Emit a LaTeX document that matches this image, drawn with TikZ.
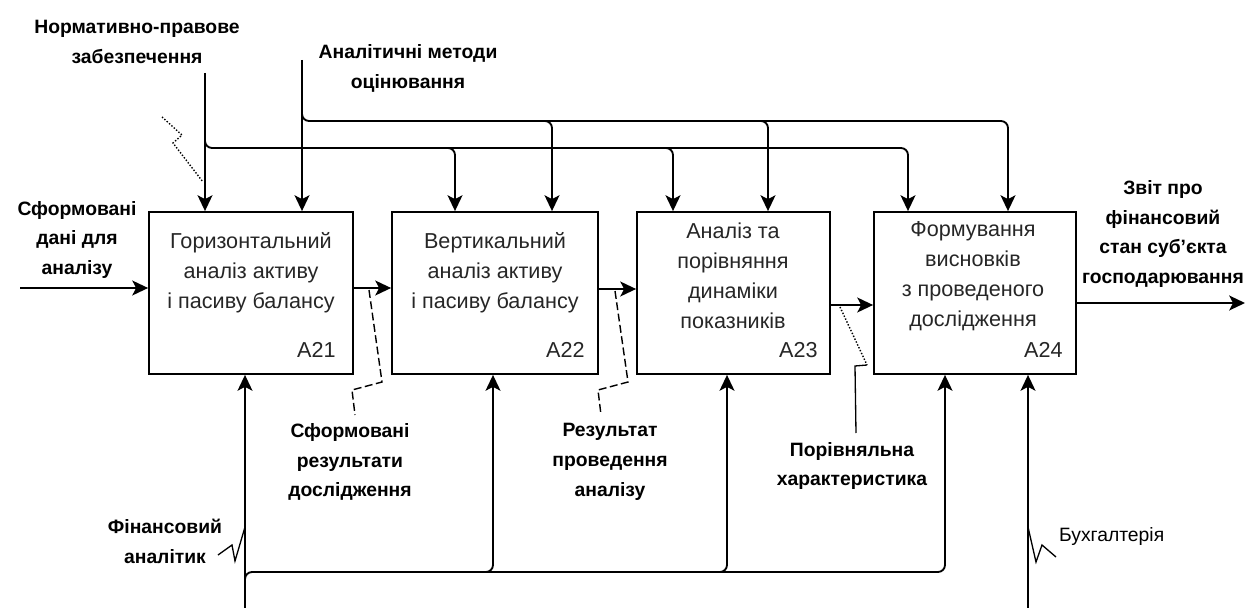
\documentclass[tikz,border=0pt]{standalone}
\usepackage{fontspec}
\setmainfont{Liberation Sans}
\usetikzlibrary{arrows.meta}

\begin{document}
\begin{tikzpicture}[x=0.02cm, y=-0.02cm,
    line/.style={line width=1.05pt},
    flow/.style={line, -{Stealth[length=9pt,width=8.5pt,inset=2.2pt]}},
    branch/.style={flow, rounded corners=4pt},
    procbox/.style={draw, line width=1.05pt, minimum width=#1, minimum height=3.24cm, inner sep=0pt},
    boxtext/.style={align=center, font=\fontsize{12.3}{17}\selectfont, text=black!85},
    boxid/.style={anchor=base east, inner sep=0pt, font=\fontsize{12.3}{17}\selectfont, text=black!85},
    tag/.style={align=center, inner sep=1pt, font=\fontsize{11}{17}\selectfont\bfseries},
    squig/.style={line width=0.75pt},
    dotsquig/.style={line width=0.8pt, densely dotted},
    dashsquig/.style={line width=0.8pt, dash pattern=on 4.5pt off 2pt},
  ]
  \useasboundingbox (0,0) rectangle (1255,608);

  % boxes
  \node[procbox=4.08cm] (a21) at (251,293) {};
  \node[procbox=4.12cm] (a22) at (495,293) {};
  \node[procbox=3.86cm] (a23) at (733.5,293) {};
  \node[procbox=4.04cm] (a24) at (975,293) {};

  \node[boxtext] (t21) at (251,273) {Горизонтальний\\аналіз активу\\і пасиву балансу};
  \node[boxtext] (t22) at (495,273) {Вертикальний\\аналіз активу\\і пасиву балансу};
  \node[boxtext] (t23) at (733,276) {Аналіз та\\порівняння\\динаміки\\показників};
  \node[boxtext] (t24) at (973,276) {Формування\\висновків\\з проведеного\\дослідження};

  \node[boxid] (n21) at ([xshift=-0.36cm,yshift=0.34cm]a21.south east) {A21};
  \node[boxid] (n22) at ([xshift=-0.28cm,yshift=0.34cm]a22.south east) {A22};
  \node[boxid] (n23) at ([xshift=-0.26cm,yshift=0.34cm]a23.south east) {A23};
  \node[boxid] (n24) at ([xshift=-0.28cm,yshift=0.34cm]a24.south east) {A24};

  % labels
  \node[tag] (norm) at (137,42) {Нормативно-правове\\забезпечення};
  \node[tag] (meth) at (408,68) {Аналітичні методи\\оцінювання};
  \node[tag] (inp) at (77,240) {Сформовані\\дані для\\аналізу};
  \node[tag] (rep) at (1163,234) {Звіт про\\фінансовий\\стан суб’єкта\\господарювання};
  \node[tag] (res1) at (350,462) {Сформовані\\результати\\дослідження};
  \node[tag] (res2) at (610,462) {Результат\\проведення\\аналізу};
  \node[tag] (cmp) at (852,466) {Порівняльна\\характеристика};
  \node[tag] (fin) at (165,541) {Фінансовий\\аналітик};
  \node[tag, anchor=west, font=\fontsize{11}{17}\selectfont] (acc) at (1057,536) {Бухгалтерія};

  % inputs and outputs
  \coordinate (i1) at (20,288);
  \coordinate (o2) at (0,289);
  \coordinate (o3) at (0,305);
  \coordinate (o4) at (1245,303);
  \draw[flow] (i1) -- (i1 -| a21.west);
  \draw[flow] (a21.east |- i1) -- (a22.west |- i1);
  \draw[flow] (a22.east |- o2) -- (a23.west |- o2);
  \draw[flow] (a23.east |- o3) -- (a24.west |- o3);
  \draw[flow] (a24.east |- o4) -- (o4);

  % controls
  \coordinate (cn) at (205,73);
  \coordinate (cm) at (302,60);
  \coordinate (nbus) at (205,148);
  \coordinate (mbus) at (302,121);
  \coordinate (u22a) at (455,148);
  \coordinate (u23a) at (673,148);
  \coordinate (u24a) at (908,148);
  \coordinate (u22b) at (552,121);
  \coordinate (u23b) at (768,121);
  \coordinate (u24b) at (1008,121);
  \draw[flow] (cn) -- (cn |- a21.north);
  \draw[flow] (cm) -- (cm |- a21.north);
  \draw[branch] ([yshift=0.24cm]nbus) |- (u24a) -- (u24a |- a24.north);
  \draw[branch] ([yshift=0.24cm]mbus) |- (u24b) -- (u24b |- a24.north);
  \foreach \u/\b in {u22a/a22, u23a/a23, u22b/a22, u23b/a23}
    \draw[branch] ([xshift=-0.18cm]\u) -| (\u |- \b.north);

  % mechanisms
  \coordinate (bfin) at (245,608);
  \coordinate (bacc) at (1028,608);
  \coordinate (dbus) at (245,572);
  \coordinate (d22) at (493,572);
  \coordinate (d23) at (727,572);
  \coordinate (d24) at (945,572);
  \draw[flow] (bfin) -- (bfin |- a21.south);
  \draw[flow] (bacc) -- (bacc |- a24.south);
  \draw[branch] ([yshift=-0.2cm]dbus) |- (d24) -- (d24 |- a24.south);
  \foreach \d/\b in {d22/a22, d23/a23}
    \draw[branch] ([xshift=-0.18cm]\d) -| (\d |- \b.south);

  % squiggles
  \draw[dotsquig] (162,117) -- (182,135) -- (173,143) -- (203,182);
  \draw[dashsquig] (369,290) -- (382,382) -- (352,390) -- (355,415);
  \draw[dashsquig] (615,291) -- (628,382) -- (598,390) -- (601,415);
  \draw[dotsquig] (840,307) -- (867,365);
  \draw[squig] (867,365) -- (855,366) -- (856,433);
  \draw[squig] (218,555) -- (232,545) -- (235,561) -- (245,527);
  \draw[squig] (1056,557) -- (1042,545) -- (1036,562) -- (1028,527);
\end{tikzpicture}
\end{document}
